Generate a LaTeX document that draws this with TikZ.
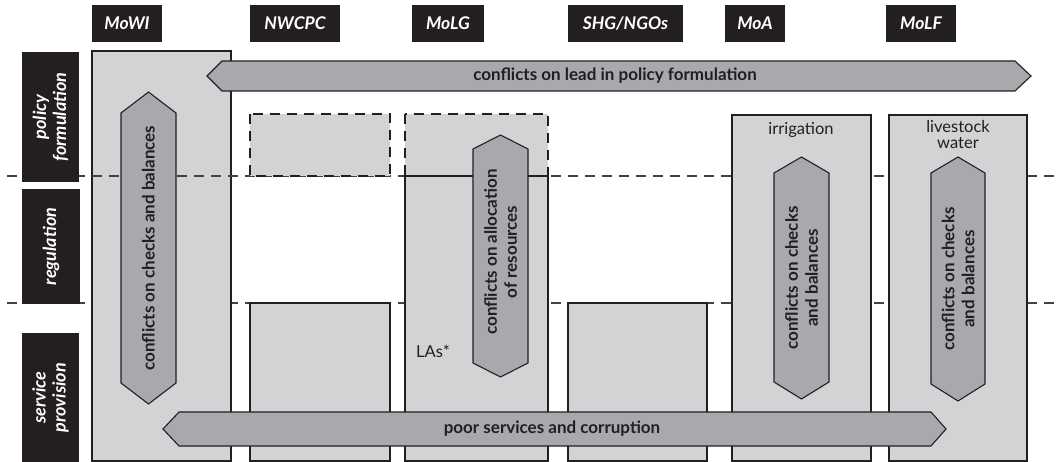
\documentclass[tikz,border=0pt]{standalone}
\usepackage{fontspec}
\setmainfont{Lato}
\usetikzlibrary{positioning}
\definecolor{panel-grey}{RGB}{209,211,212}
\definecolor{arrow-grey}{RGB}{167,169,172}
\definecolor{ink}{RGB}{35,31,32}
\tikzset{
  actor/.style={fill=ink, text=white, inner sep=0pt, minimum height=37pt,
    font=\bfseries\itshape\fontsize{17.5}{19}\selectfont},
  level/.style={fill=ink, text=white, inner sep=0pt, rotate=90, align=center,
    font=\bfseries\itshape\fontsize{18}{20}\selectfont},
  panel/.style={draw=ink, fill=panel-grey, line width=1.1pt},
  ghost/.style={panel, dash pattern=on 10pt off 7pt},
  divider/.style={draw=ink!85, line width=1.1pt, dash pattern=on 10pt off 7pt},
  conflict/.style={draw=ink, fill=arrow-grey, line width=1.1pt, line join=miter},
  conflict text/.style={text=ink, align=center,
    font=\bfseries\fontsize{17}{20}\selectfont},
  note/.style={text=ink, align=center, font=\fontsize{16.5}{18}\selectfont},
}

\begin{document}
\begin{tikzpicture}[x=1pt, y=-1pt]
    \useasboundingbox (0,0) rectangle (1061,462);

    % levels split by dashed lines
    \coordinate (upper-l) at (7,176);
    \coordinate (upper-r) at (1061,176);
    \coordinate (lower-l) at (7,303);
    \coordinate (lower-r) at (1061,303);

    \draw[divider] (lower-l) -- (lower-r);
	\draw[panel] (92,51) rectangle (231,461);
    \draw[divider] (upper-l) -- (upper-r);

    % actor columns
	\draw[ghost] (250,114) rectangle (390,176);
	\draw[ghost] (405,114) rectangle (548,176);
	\draw[panel] (405,176) rectangle (548,461);
	\draw[panel] (250,303) rectangle (390,461);
	\draw[panel] (568,303) rectangle (707,461);
	\draw[panel] (732,115) rectangle (871,461);
	\draw[panel] (889,115) rectangle (1027,461);

    \node[note] (irrigation) at (801,130) {irrigation};
    \node[note] (livestock) at (958,134) {livestock\\[-2pt]water};
    \node[note] (las) at (433,351) {LAs*};

    % conflicts across the columns
    \draw[conflict] (207,76) -- (222,61) -- (1015,61) -- (1031,76) -- (1015,91) -- (222,91) -- cycle;
    \node[conflict text] (lead) at (615,76) {conflicts on lead in policy formulation};

    \draw[conflict] (163,429) -- (179,412) -- (931,412) -- (946,429) -- (931,446) -- (179,446) -- cycle;
    \node[conflict text] (poor) at (552,429) {poor services and corruption};

    % conflicts within a column
    \draw[conflict] (148.5,92) -- (176,113) -- (176,383) -- (148.5,404) -- (121,383) -- (121,113) -- cycle;
    \node[conflict text, rotate=90] (checks-mowi) at (148.5,248) {conflicts on checks and balances};

    \draw[conflict] (500.5,135) -- (528,149) -- (528,363) -- (500.5,377) -- (473,363) -- (473,149) -- cycle;
    \node[conflict text, rotate=90] (alloc) at (500.5,252) {conflicts on allocation\\of resources};

    \draw[conflict] (801.5,157) -- (829,173) -- (829,382) -- (801.5,399) -- (774,382) -- (774,173) -- cycle;
    \node[conflict text, rotate=90] (checks-moa) at (801.5,278) {conflicts on checks\\and balances};

    \draw[conflict] (958,157) -- (985,173) -- (985,384) -- (958,401) -- (931,384) -- (931,173) -- cycle;
    \node[conflict text, rotate=90] (checks-molf) at (958,279) {conflicts on checks\\and balances};

    % headings
    \node[actor, minimum width=70pt] (mowi) at (127,23.5) {MoWI};
    \node[actor, minimum width=90pt] (nwcpc) at (295,23.5) {NWCPC};
    \node[actor, minimum width=72pt] (molg) at (448,23.5) {MoLG};
    \node[actor, minimum width=115pt] (shg) at (625.5,23.5) {SHG/NGOs};
    \node[actor, minimum width=60pt] (moa) at (755,23.5) {MoA};
    \node[actor, minimum width=70pt] (molf) at (921,23.5) {MoLF};

    \node[level, minimum width=130pt, minimum height=57pt] (policy) at (50.5,117) {policy\\formulation};
    \node[level, minimum width=115pt, minimum height=58pt] (regulation) at (51,246.5) {regulation};
    \node[level, minimum width=129pt, minimum height=57pt] (service) at (50.5,397.5) {service\\provision};
\end{tikzpicture}
\end{document}
